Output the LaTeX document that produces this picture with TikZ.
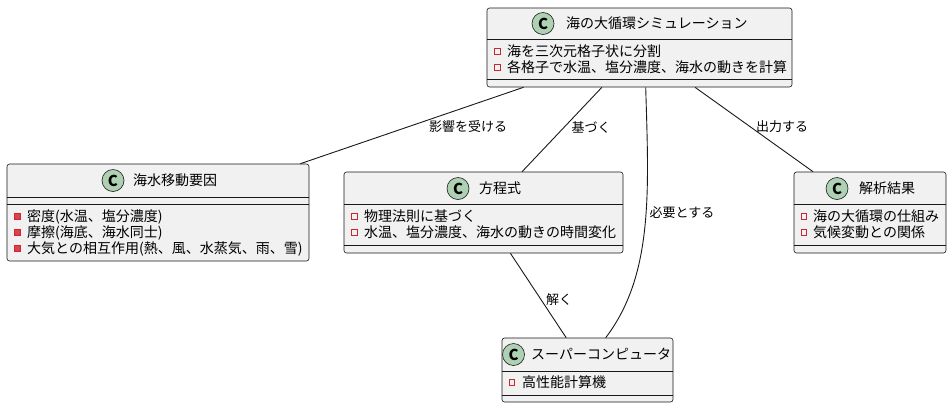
\documentclass[tikz,border=0pt]{standalone}
\usepackage{fontspec}
\setmainfont{Noto Sans CJK JP}
\usetikzlibrary{calc}
\definecolor{boxfill}{HTML}{F1F1F1}
\definecolor{boxline}{HTML}{181818}
\definecolor{cfill}{HTML}{ADD1B2}
\definecolor{mred}{HTML}{C82930}
\definecolor{mredf}{HTML}{E0404E}
\tikzset{
 classbox/.style={draw=boxline, fill=boxfill, line width=0.6pt, rounded corners=2.5pt, inner sep=0pt},
 sepline/.style={draw=boxline, line width=0.6pt},
 cmark/.style={circle, draw=boxline, fill=cfill, line width=0.6pt, minimum size=22pt, inner sep=0pt, font=\fontsize{15}{15}\selectfont\bfseries},
 titletext/.style={anchor=base west, inner sep=0pt, font=\fontsize{14}{16}\selectfont},
 itemtext/.style={anchor=base west, inner sep=0pt, font=\fontsize{14}{16}\selectfont},
 fieldmark/.style={draw=mred, line width=0.7pt, minimum size=5.5pt, inner sep=0pt},
 methodmark/.style={draw=mred, fill=mredf, line width=0.7pt, minimum size=5.5pt, inner sep=0pt},
 conn/.style={draw=boxline, line width=0.9pt},
 elabel/.style={inner sep=0pt, font=\fontsize{13}{15}\selectfont},
}
\begin{document}
\begin{tikzpicture}[x=1pt,y=-1pt]
\useasboundingbox (0,0) rectangle (952,408);
% class boxes
\node[classbox, minimum width=305pt, minimum height=79pt] (main) at (639.5,47.5) {};
\node[classbox, minimum width=302pt, minimum height=97pt] (fac) at (158,212.5) {};
\node[classbox, minimum width=279pt, minimum height=81pt] (eq) at (483.5,212.5) {};
\node[classbox, minimum width=152pt, minimum height=81pt] (res) at (870,212.5) {};
\node[classbox, minimum width=171pt, minimum height=64pt] (sc) at (587.5,370) {};
% connectors
\draw[conn] (main) -- (fac);
\draw[conn] (main) -- (eq);
\draw[conn] (main) -- (res);
\draw[conn] (eq) -- (sc);
\draw[conn] ($(main.south west)+(159,0)$) .. controls ($(main.south west)+(162,103)$) and ($(sc.north west)+(152,-63)$) .. ($(sc.north west)+(104,0)$);
% edge labels
\node[elabel] (l1) at (468,127) {影響を受ける};
\node[elabel] (l2) at (591,127) {基づく};
\node[elabel] (l3) at (782,127) {出力する};
\node[elabel] (l4) at (682,213) {必要とする};
\node[elabel] (l5) at (559,300) {解く};
% main
\draw[sepline] (487,39) -- (792,39);
\draw[sepline] (487,79) -- (792,79);
\node[cmark] (mainc) at (543,23.5) {C};
\node[titletext] (maint) at (566,28.5) {海の大循環シミュレーション};
\node[fieldmark] (mainm1) at (497.5,51.5) {};
\node[itemtext] (maini1) at (507,56.5) {海を三次元格子状に分割};
\node[fieldmark] (mainm2) at (497.5,67.5) {};
\node[itemtext] (maini2) at (507,72.5) {各格子で水温、塩分濃度、海水の動きを計算};
% fac
\draw[sepline] (7,197) -- (309,197);
\draw[sepline] (7,204) -- (309,204);
\node[cmark] (facc) at (113,180.5) {C};
\node[titletext] (fact) at (133,185.5) {海水移動要因};
\node[methodmark] (facm1) at (17.5,216.5) {};
\node[itemtext] (faci1) at (27,221.5) {密度(水温、塩分濃度)};
\node[methodmark] (facm2) at (17.5,232.5) {};
\node[itemtext] (faci2) at (27,237.5) {摩擦(海底、海水同士)};
\node[methodmark] (facm3) at (17.5,248.5) {};
\node[itemtext] (faci3) at (27,253.5) {大気との相互作用(熱、風、水蒸気、雨、雪)};
% eq
\draw[sepline] (344,204) -- (623,204);
\draw[sepline] (344,245) -- (623,245);
\node[cmark] (eqc) at (458,188.5) {C};
\node[titletext] (eqt) at (479,193.5) {方程式};
\node[fieldmark] (eqm1) at (354.5,216.5) {};
\node[itemtext] (eqi1) at (364,221.5) {物理法則に基づく};
\node[fieldmark] (eqm2) at (354.5,232.5) {};
\node[itemtext] (eqi2) at (364,237.5) {水温、塩分濃度、海水の動きの時間変化};
% res
\draw[sepline] (794,204) -- (946,204);
\draw[sepline] (794,245) -- (946,245);
\node[cmark] (resc) at (837,188.5) {C};
\node[titletext] (rest) at (859,193.5) {解析結果};
\node[fieldmark] (resm1) at (804,216.5) {};
\node[itemtext] (resi1) at (813,221.5) {海の大循環の仕組み};
\node[fieldmark] (resm2) at (804,232.5) {};
\node[itemtext] (resi2) at (813,237.5) {気候変動との関係};
% sc
\draw[sepline] (502,371) -- (673,371);
\draw[sepline] (502,395) -- (673,395);
\node[cmark] (scc) at (513.5,354.5) {C};
\node[titletext] (sct) at (531,359.5) {スーパーコンピュータ};
\node[fieldmark] (scm1) at (512,382.5) {};
\node[itemtext] (sci1) at (522,387.5) {高性能計算機};
\end{tikzpicture}
\end{document}
